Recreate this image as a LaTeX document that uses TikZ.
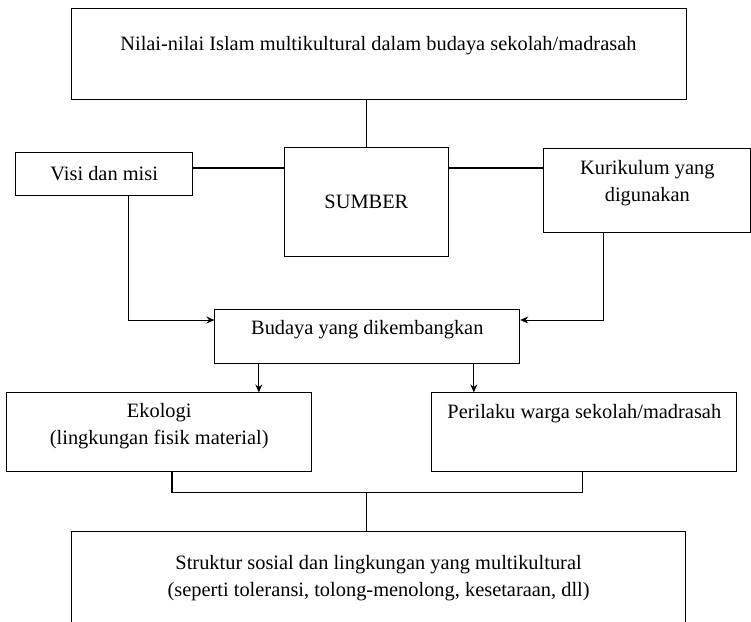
\documentclass[tikz,border=0pt]{standalone}
\usepackage{fontspec}
\setmainfont{Liberation Serif}
\usetikzlibrary{arrows.meta, positioning}

\begin{document}
\begin{tikzpicture}[
    x=1pt, y=-1pt,
    >={Stealth[length=8pt, width=7pt]},
    box/.style={rectangle, draw=black, line width=0.8pt, align=center, inner sep=2pt, font=\fontsize{20.4}{27}\selectfont},
    link/.style={line width=1.5pt},
    arrowlink/.style={->, line width=1pt}
  ]
  \useasboundingbox (0,0) rectangle (751,621);

  % Boxes
  \node[box, minimum width=615pt, minimum height=91pt, text depth=21pt] (nilai) at (378.4, 53.8) {Nilai-nilai Islam multikultural dalam budaya sekolah/madrasah};
  \node[box, minimum width=177pt, minimum height=43pt] (visi) at (104.2, 173.6) {Visi dan misi};
  \node[box, minimum width=164pt, minimum height=109pt] (sumber) at (366.4, 201.5) {SUMBER};
  \node[box, minimum width=207pt, minimum height=84pt, text depth=19pt] (kurikulum) at (647.3, 190) {Kurikulum yang\\digunakan};
  \node[box, minimum width=305pt, minimum height=54pt, text depth=18pt] (budaya) at (367.3, 336) {Budaya yang dikembangkan};
  \node[box, minimum width=305pt, minimum height=79pt, text depth=16pt] (ekologi) at (159.2, 432.3) {Ekologi\\(lingkungan fisik material)};
  \node[box, minimum width=305pt, minimum height=79pt, text depth=42pt] (perilaku) at (584.3, 432.3) {Perilaku warga sekolah/madrasah};
  \node[box, minimum width=614pt, minimum height=94pt] (struktur) at (378.6, 578) {Struktur sosial dan lingkungan yang multikultural\\(seperti toleransi, tolong-menolong, kesetaraan, dll)};

  % Helper levels
  \coordinate (hl) at (0, 168);
  \coordinate (al) at (0, 320);
  \coordinate (br) at (0, 492.3);

  % Links
  \draw[link] (sumber.north |- nilai.south) -- (sumber.north);
  \draw[link] (visi.east |- hl) -- (sumber.west |- hl);
  \draw[link] (sumber.east |- hl) -- (kurikulum.west |- hl);
  \draw[arrowlink] ([xshift=24pt]visi.south) |- (budaya.west |- al);
  \draw[arrowlink] ([xshift=-44pt]kurikulum.south) |- (budaya.east |- al);
  \draw[arrowlink] ([xshift=-108.5pt]budaya.south) coordinate (dl) -- (dl |- ekologi.north);
  \draw[arrowlink] ([xshift=106.5pt]budaya.south) coordinate (dr) -- (dr |- perilaku.north);
  \draw[link] ([xshift=13pt]ekologi.south) |- ([xshift=-2pt]perilaku.south |- br) -- ([xshift=-2pt]perilaku.south);
  \draw[link] (sumber.south |- br) -- (sumber.south |- struktur.north);

\end{tikzpicture}
\end{document}
